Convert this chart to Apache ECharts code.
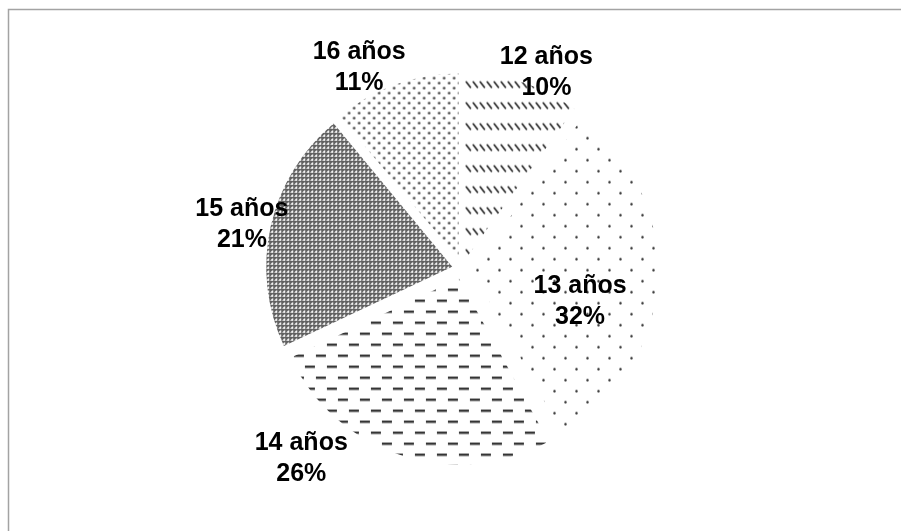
<!DOCTYPE html>
<html>
<head>
<meta charset="utf-8">
<script src="https://cdn.jsdelivr.net/npm/echarts@6/dist/echarts.min.js"></script>
<style>
  html, body { margin: 0; padding: 0; background: #fff; }
  #chart { width: 901px; height: 531px; }
</style>
</head>
<body>
<div id="chart"></div>
<script>
// ---- data ----
const categories = ['12 años', '13 años', '14 años', '15 años', '16 años'];
const values = [10, 32, 26, 21, 11];

// ---- layout / style ----
const CX = 462, CY = 269, R = 186, EXPLODE = 10;
const labelRadius = [216, 122, 247, 225, 228];
const labelAngleShift = [5, 11, 22.6, -0.6, -7];
const LABEL_DY = 2;

function tile(w, h, draw) {
  const c = document.createElement('canvas');
  c.width = w; c.height = h;
  const g = c.getContext('2d');
  g.fillStyle = '#ffffff';
  g.fillRect(0, 0, w, h);
  draw(g, w, h);
  return { image: c, repeat: 'repeat' };
}
function dot(g, x, y, r, col) {
  g.fillStyle = col;
  g.beginPath(); g.arc(x, y, r, 0, Math.PI * 2); g.fill();
}
// 12: rows of short backslash strokes
const pat12 = tile(7, 21, (g) => {
  g.strokeStyle = '#2c2c2c'; g.lineWidth = 1.7; g.lineCap = 'round';
  g.beginPath(); g.moveTo(1.2, 7.5); g.lineTo(5.3, 12.8); g.stroke();
});
// 13: sparse staggered dots
const pat13 = tile(22, 22, (g) => {
  dot(g, 5.5, 5.5, 1.2, '#2e2e2e');
  dot(g, 16.5, 16.5, 1.2, '#2e2e2e');
});
// 14: staggered horizontal dashes
const pat14 = tile(22, 22, (g) => {
  g.fillStyle = '#353535';
  g.fillRect(0, 4, 10, 2.4);
  g.fillRect(11, 15, 10, 2.4);
});
// 15: crosshatch with light diamonds
const pat15 = tile(4, 4, (g) => {
  g.fillStyle = '#606060';
  g.fillRect(0, 0, 4, 4);
  g.fillStyle = '#f4f4f4';
  g.fillRect(1, 1, 2, 2);
  g.fillStyle = '#bdbdbd';
  g.fillRect(2, 0, 1, 1);
  g.fillRect(0, 2, 1, 1);
});
// 16: dense staggered dots
const pat16 = tile(10, 10, (g) => {
  dot(g, 2.5, 2.5, 1.2, '#333333');
  dot(g, 7.5, 7.5, 1.2, '#333333');
});
const patterns = [pat12, pat13, pat14, pat15, pat16];

const total = values.reduce((a, b) => a + b, 0);
function midAngle(i) {
  let s = 0;
  for (let k = 0; k < i; k++) s += values[k];
  return (s + values[i] / 2) / total * 360;
}

const labelStyle = {
  show: true,
  position: 'inside',
  formatter: (p) => p.name + '\n' + p.value + '%',
  fontFamily: 'Liberation Sans, Arial, sans-serif',
  fontWeight: 'bold',
  fontSize: 25,
  lineHeight: 31,
  color: '#000000',
  align: 'center'
};

const chart = echarts.init(document.getElementById('chart'), null, { renderer: 'canvas' });
chart.setOption({
  animation: false,
  backgroundColor: '#ffffff',
  graphic: [{
    type: 'rect', silent: true,
    shape: { x: 8.5, y: 9.5, width: 900, height: 530 },
    style: { fill: 'none', stroke: '#a3a3a3', lineWidth: 1.5 }
  }],
  series: [{
    // exploded pattern-filled slices
    type: 'pie',
    center: [CX, CY],
    radius: R,
    startAngle: 90,
    clockwise: true,
    selectedMode: 'multiple',
    selectedOffset: EXPLODE,
    silent: true,
    emphasis: { disabled: true },
    itemStyle: { borderWidth: 0 },
    label: { show: false },
    labelLine: { show: false },
    data: categories.map((c, i) => ({
      name: c,
      value: values[i],
      selected: true,
      itemStyle: { color: patterns[i] }
    }))
  }, {
    // same data, transparent slices carrying the labels
    type: 'pie',
    center: [CX, CY],
    radius: R,
    startAngle: 90,
    clockwise: true,
    silent: true,
    z: 5,
    emphasis: { disabled: true },
    itemStyle: { color: 'rgba(0,0,0,0)', borderWidth: 0 },
    label: labelStyle,
    labelLine: { show: false },
    labelLayout: (p) => {
      const i = p.dataIndex;
      const a = (midAngle(i) + labelAngleShift[i]) * Math.PI / 180;
      return {
        x: CX + labelRadius[i] * Math.sin(a),
        y: CY - labelRadius[i] * Math.cos(a) + LABEL_DY,
        align: 'center',
        verticalAlign: 'middle'
      };
    },
    data: categories.map((c, i) => ({ name: c, value: values[i] }))
  }]
});
</script>
</body>
</html>
